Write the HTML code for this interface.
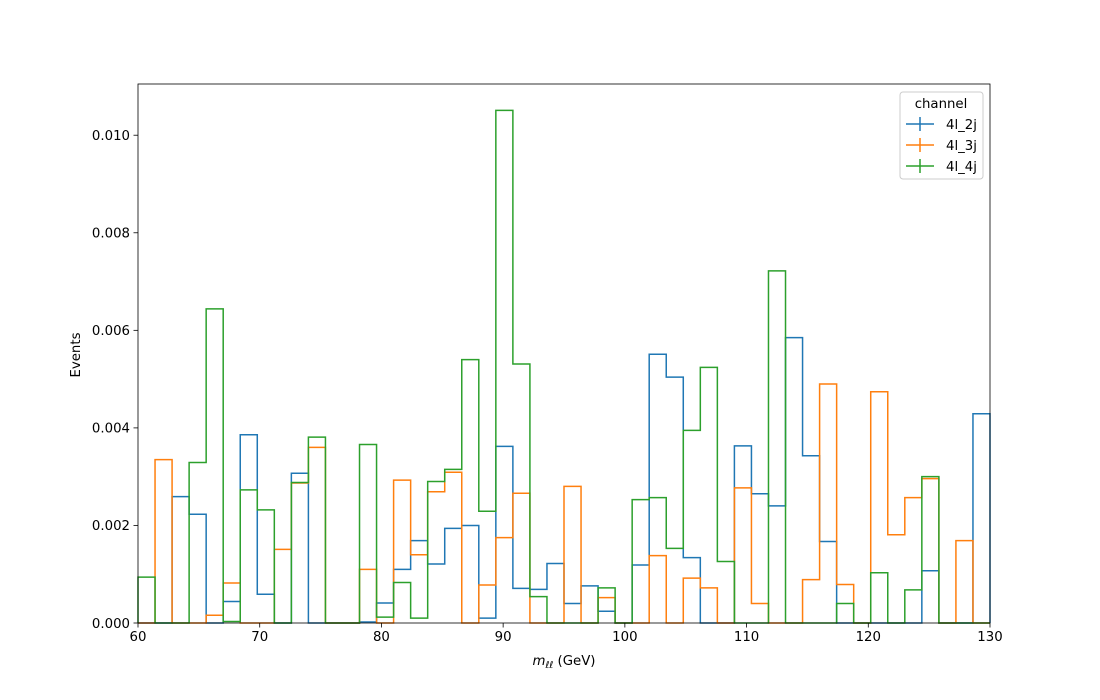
<!DOCTYPE html>
<html><head><meta charset="utf-8"><style>
body{margin:0;background:#fff;}
svg{display:block;font-family:"DejaVu Sans","Liberation Sans",sans-serif;}
</style></head><body>
<svg id="chart" width="1100" height="700" viewBox="0 0 1100 700">
<rect x="0" y="0" width="1100" height="700" fill="#fff"/>
<g id="plot"></g>
<g id="axes"></g>
</svg>
<script>
const xMin = 60, xMax = 130, nBins = 50;
const xTicks = [60, 70, 80, 90, 100, 110, 120, 130];
const yTicks = [0, 0.002, 0.004, 0.006, 0.008, 0.010];
const yTickLabels = ["0.000", "0.002", "0.004", "0.006", "0.008", "0.010"];
const seriesNames = ["4l_2j", "4l_3j", "4l_4j"];
const seriesColors = ["#1f77b4", "#ff7f0e", "#2ca02c"];
const blue = [0,0,2.59,2.23,0,0.44,3.86,0.59,0,3.07,0,0,0,0.02,0.41,1.10,1.69,1.21,1.94,2.00,0.10,3.62,0.71,0.69,1.22,0.40,0.76,0.24,0,1.19,5.51,5.04,1.34,0,0,3.63,2.65,2.40,5.85,3.43,1.67,0,0,0,0,0,1.07,0,0,4.29];
const orange = [0,3.35,0,0,0.16,0.82,0,0,1.51,2.87,3.60,0,0,1.10,0,2.93,1.40,2.69,3.09,0,0.78,1.75,2.66,0,0,2.80,0,0.52,0,0,1.38,0,0.92,0.72,0,2.77,0.40,0,0,0.89,4.90,0.79,0,4.74,1.81,2.57,2.96,0,1.69,0];
const green = [0.94,0,0,3.29,6.44,0.03,2.73,2.32,0,2.88,3.81,0,0,3.66,0.12,0.83,0.10,2.90,3.15,5.40,2.29,10.51,5.31,0.54,0,0,0,0.72,0,2.53,2.57,1.53,3.95,5.24,1.26,0,0,7.22,0,0,0,0.40,0,1.03,0,0.68,3.00,0,0,0];
const seriesValues = [blue, orange, green];

const L = 138, R = 990, T = 84, B = 623;
const yMaxVal = 0.01105;
const sx = v => L + (v - xMin) / (xMax - xMin) * (R - L);
const sy = v => B - v / yMaxVal * (B - T);
const NS = "http://www.w3.org/2000/svg";
const plot = document.getElementById('plot');
const axes = document.getElementById('axes');
function mk(tag, attrs, parent) { const e = document.createElementNS(NS, tag); for (const k in attrs) e.setAttribute(k, attrs[k]); parent.appendChild(e); return e; }

const bw = (xMax - xMin) / nBins;
seriesValues.forEach((vals, s) => {
  let d = "M" + sx(xMin) + "," + sy(0);
  vals.forEach((v, i) => {
    const y = sy(v / 1000);
    d += " L" + sx(xMin + i * bw) + "," + y + " L" + sx(xMin + (i + 1) * bw) + "," + y;
  });
  d += " L" + sx(xMax) + "," + sy(0);
  const p = mk('path', {d: d, fill: 'none', stroke: seriesColors[s], 'stroke-width': 1.5, 'stroke-linejoin': 'miter'}, plot);
  
  
});

const frame = mk('rect', {x: L, y: T, width: R - L, height: B - T, fill: 'none', stroke: '#000', 'stroke-width': 0.8}, axes);



xTicks.forEach(t => {
  const x = sx(t);
  const tk = mk('line', {x1: x, x2: x, y1: B, y2: B + 4.5, stroke: '#000', 'stroke-width': 0.8}, axes);
  
  
  const tl = mk('text', {x: x, y: B + 18, 'font-size': 13.3, 'text-anchor': 'middle', fill: '#000'}, axes);
  tl.textContent = t;
  
  
});
yTicks.forEach((t, i) => {
  const y = sy(t);
  const tk = mk('line', {x1: L - 4.5, x2: L, y1: y, y2: y, stroke: '#000', 'stroke-width': 0.8}, axes);
  
  
  const tl = mk('text', {x: L - 8, y: y + 4.8, 'font-size': 13.3, 'text-anchor': 'end', fill: '#000'}, axes);
  tl.textContent = yTickLabels[i];
  
  
});

const xl = mk('text', {x: 564, y: 665, 'font-size': 13.3, 'text-anchor': 'middle', fill: '#000'}, axes);
xl.innerHTML = '<tspan font-style="italic">m</tspan><tspan font-style="italic" font-size="9.5" dy="3">ℓℓ</tspan><tspan dy="-3"> (GeV)</tspan>';


const yl = mk('text', {x: 0, y: 0, 'font-size': 13.3, 'text-anchor': 'middle', fill: '#000', transform: 'translate(80,355) rotate(-90)'}, axes);
yl.textContent = 'Events';



const lg = mk('g', {}, axes);


const lb = mk('rect', {x: 900, y: 92, width: 83, height: 87, rx: 3, fill: '#fff', 'fill-opacity': 0.8, stroke: '#ccc', 'stroke-width': 1}, lg);


const lt = mk('text', {x: 941, y: 108, 'font-size': 13.3, 'text-anchor': 'middle', fill: '#000'}, lg);
lt.textContent = 'channel';


seriesNames.forEach((n, i) => {
  const y = 124 + i * 21;
  const e = mk('g', {}, lg);
  
  
  mk('line', {x1: 906, x2: 934, y1: y, y2: y, stroke: seriesColors[i], 'stroke-width': 1.5}, e);
  mk('line', {x1: 920, x2: 920, y1: y - 7, y2: y + 7, stroke: seriesColors[i], 'stroke-width': 1.5}, e);
  const t = mk('text', {x: 946, y: y + 5, 'font-size': 13.3, fill: '#000'}, e);
  t.textContent = n;
});
</script>
</body></html>
